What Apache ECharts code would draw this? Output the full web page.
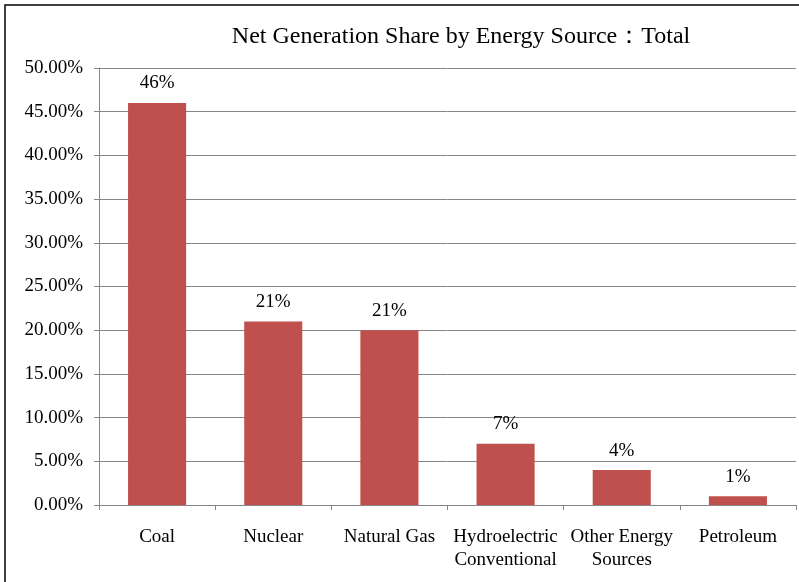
<!DOCTYPE html>
<html>
<head>
<meta charset="utf-8">
<script src="https://cdn.jsdelivr.net/npm/echarts@6/dist/echarts.min.js"></script>
<style>
  html, body { margin: 0; padding: 0; background: #fff; }
  #main { width: 799px; height: 582px; }
</style>
</head>
<body>
<div id="main"></div>
<script>
// net generation share, percent
var categories = ['Coal', 'Nuclear', 'Natural Gas', 'Hydroelectric\nConventional', 'Other Energy\nSources', 'Petroleum'];
var shareValues = [46, 21, 20, 7, 4, 1];
var shareLabels = ['46%', '21%', '21%', '7%', '4%', '1%'];

var serif = "'Liberation Serif', 'Times New Roman', 'DejaVu Serif', serif";

var chart = echarts.init(document.getElementById('main'));
var option = {
  backgroundColor: '#fff',
  animation: false,
  textStyle: { fontFamily: serif },
  graphic: [{
    type: 'rect',
    shape: { x: 5, y: 5, width: 900, height: 700 },
    style: { fill: 'none', stroke: '#000', lineWidth: 1.5 },
    silent: true
  }],
  title: {
    text: 'Net Generation Share by Energy Source\uff1aTotal',
    left: 456,
    textAlign: 'center',
    top: 20,
    textStyle: { fontFamily: serif, fontSize: 24, fontWeight: 'normal', color: '#000' }
  },
  grid: { left: 99, right: 3, top: 68, bottom: 77, containLabel: false },
  xAxis: {
    type: 'category',
    data: categories,
    axisLine: { lineStyle: { color: '#868686' } },
    axisTick: { show: true, alignWithLabel: false, length: 5, lineStyle: { color: '#868686' } },
    axisLabel: { color: '#000', fontSize: 19, fontFamily: serif, margin: 21, lineHeight: 23, interval: 0 }
  },
  yAxis: {
    type: 'value',
    min: 0,
    max: 50,
    interval: 5,
    axisLine: { show: true, lineStyle: { color: '#868686' } },
    axisTick: { show: true, length: 5, lineStyle: { color: '#868686' } },
    splitLine: { show: true, lineStyle: { color: '#868686', width: 1 } },
    axisLabel: {
      color: '#000', fontSize: 19, fontFamily: serif, margin: 16,
      formatter: function (v) { return v.toFixed(2) + '%'; }
    }
  },
  series: [{
    type: 'bar',
    data: shareValues,
    barWidth: '50%',
    itemStyle: { color: '#C0504D' },
    label: {
      show: true,
      position: 'top',
      distance: 10,
      color: '#000',
      fontSize: 19,
      fontFamily: serif,
      formatter: function (p) { return shareLabels[p.dataIndex]; }
    }
  }]
};
chart.setOption(option);
</script>
</body>
</html>
